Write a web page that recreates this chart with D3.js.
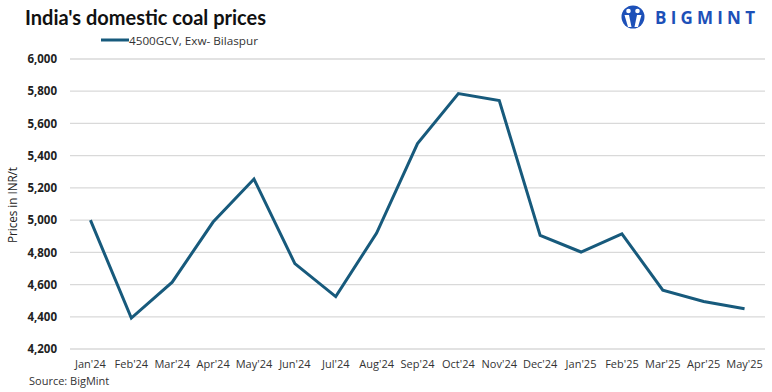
<!DOCTYPE html>
<html>
<head>
<meta charset="utf-8">
<script src="https://cdn.jsdelivr.net/npm/d3@7"></script>
<style>
  html, body { margin: 0; padding: 0; background: #fff; }
  svg { display: block; font-family: "Open Sans", "Liberation Sans", sans-serif; }
</style>
</head>
<body>
<svg id="chart" width="772" height="392"></svg>
<script>
const categories = ["Jan'24","Feb'24","Mar'24","Apr'24","May'24","Jun'24","Jul'24","Aug'24","Sep'24","Oct'24","Nov'24","Dec'24","Jan'25","Feb'25","Mar'25","Apr'25","May'25"];
const prices = [5000, 4392, 4615, 4988, 5255, 4730, 4525, 4920, 5475, 5785, 5742, 4905, 4802, 4915, 4565, 4495, 4450];
const yTicks = [4200, 4400, 4600, 4800, 5000, 5200, 5400, 5600, 5800, 6000];
const seriesName = "4500GCV, Exw- Bilaspur";
const titleText = "India's domestic coal prices";
const yTitle = "Prices in INR/t";
const sourceText = "Source: BigMint";

const svg = d3.select("#chart");
const margin = { left: 70, right: 7, top: 59, bottom: 43 };
const W = 772, H = 392;

const x = d3.scaleBand().domain(categories).range([margin.left, W - margin.right]).padding(0);
const y = d3.scaleLinear().domain([4200, 6000]).range([H - margin.bottom, margin.top]);

// gridlines
svg.append("g").selectAll("line").data(yTicks).join("line")
  .attr("x1", margin.left).attr("x2", W - margin.right)
  .attr("y1", d => y(d)).attr("y2", d => y(d))
  .attr("stroke", "#d9d9d9").attr("stroke-width", 1.3);

// y axis labels
const yAxis = d3.axisLeft(y).tickValues(yTicks).tickSize(0).tickPadding(13).tickFormat(d3.format(","));
const gy = svg.append("g").attr("transform", `translate(${margin.left},0)`).call(yAxis);
gy.select(".domain").remove();
gy.selectAll("text").attr("font-size", 11.5).attr("font-weight", "bold").attr("fill", "#222")
  .attr("font-family", "'Open Sans', sans-serif");

// x axis labels
const xAxis = d3.axisBottom(x).tickSize(0).tickPadding(11);
const gx = svg.append("g").attr("transform", `translate(0,${y(4200)})`).call(xAxis);
gx.select(".domain").remove();
gx.selectAll("text").attr("font-size", 11).attr("fill", "#333")
  .attr("font-family", "'Open Sans', sans-serif");

// line
const line = d3.line().x((d, i) => x(categories[i]) + x.bandwidth() / 2).y(d => y(d));
svg.append("path").datum(prices)
  .attr("d", line).attr("fill", "none")
  .attr("stroke", "#175a7c").attr("stroke-width", 3).attr("stroke-linejoin", "miter");

// title
svg.append("text").attr("x", 25).attr("y", 25)
  .attr("font-size", 21).attr("font-weight", "bold").attr("fill", "#111")
  .attr("font-family", "Lato, 'Open Sans', sans-serif")
  .attr("textLength", 241).attr("lengthAdjust", "spacingAndGlyphs")
  .text(titleText);

// legend
svg.append("line").attr("x1", 101).attr("x2", 129).attr("y1", 40).attr("y2", 40)
  .attr("stroke", "#175a7c").attr("stroke-width", 3);
svg.append("text").attr("x", 129).attr("y", 44.5)
  .attr("font-size", 11.5).attr("fill", "#333")
  .attr("textLength", 129).attr("lengthAdjust", "spacingAndGlyphs")
  .text(seriesName);

// y title
svg.append("text").attr("transform", "translate(17,205) rotate(-90)")
  .attr("text-anchor", "middle").attr("font-size", 12.5).attr("fill", "#222")
  .attr("textLength", 76).attr("lengthAdjust", "spacingAndGlyphs")
  .text(yTitle);

// source
svg.append("text").attr("x", 29).attr("y", 385)
  .attr("font-size", 11).attr("fill", "#333")
  .text(sourceText);

// logo
const logo = svg.append("g");
const blue = "#1d50b8";
logo.append("circle").attr("cx", 633).attr("cy", 17).attr("r", 11.5).attr("fill", blue);
logo.append("circle").attr("cx", 628.5).attr("cy", 11).attr("r", 2.3).attr("fill", "#fff");
logo.append("circle").attr("cx", 637.5).attr("cy", 11).attr("r", 2.3).attr("fill", "#fff");
logo.append("path").attr("d", "M624.5,15 L629,15 L631.5,27 L628,27 Z").attr("fill", "#fff");
logo.append("path").attr("d", "M641.5,15 L637,15 L634.5,27 L638,27 Z").attr("fill", "#fff");
logo.append("text").attr("x", 655).attr("y", 24).attr("font-size", 17).attr("font-weight", "bold")
  .attr("fill", blue).attr("font-family", "'Open Sans', sans-serif")
  .attr("textLength", 100).attr("lengthAdjust", "spacing")
  .text("BIGMINT");
</script>
</body>
</html>
